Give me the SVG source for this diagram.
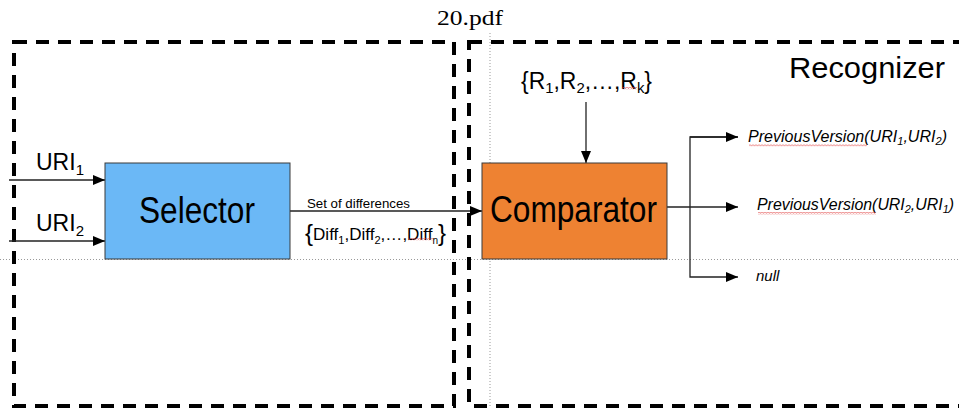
<svg xmlns="http://www.w3.org/2000/svg" width="959" height="411" viewBox="0 0 959 411">
<style>
.dash{fill:none;stroke:#000;stroke-width:4;stroke-dasharray:13,9}
.dot{fill:none;stroke:#999;stroke-width:1;stroke-dasharray:1,2}
.conn{fill:none;stroke:#222;stroke-width:1.3}
.box{stroke:#3a3a3a;stroke-width:1}
.sans{font-family:"Liberation Sans",Arial,sans-serif;fill:#000}
.it{font-style:italic}
.sq{fill:url(#zig)}
</style>
<defs>
<marker id="ah" viewBox="0 0 12 10" markerWidth="12" markerHeight="10" refX="12" refY="5" orient="auto" markerUnits="userSpaceOnUse">
<path d="M0,0 L12,5 L0,10 z" fill="#000"/>
</marker>
<pattern id="zig" width="3" height="2.4" patternUnits="userSpaceOnUse">
<path d="M0,0.4 L1.5,2 L3,0.4" fill="none" stroke="#e04040" stroke-width="0.7"/>
</pattern>
</defs>
<rect width="959" height="411" fill="#fff"/>
<text x="437" y="25" font-family="'Liberation Serif','DejaVu Serif',serif" font-size="22" textLength="66" lengthAdjust="spacingAndGlyphs">20.pdf</text>
<g id="guides">
<line class="dot" x1="490" y1="33" x2="490" y2="407"/>
<line class="dot" x1="0" y1="259.5" x2="959" y2="259.5"/>
</g>
<g id="selector-region">
<rect class="dash" x="14" y="42" width="440" height="364"/>
</g>
<g id="recognizer-region">
<rect class="dash" x="469" y="42" width="520" height="364"/>
<text class="sans" x="789" y="78" font-size="30" textLength="156" lengthAdjust="spacingAndGlyphs">Recognizer</text>
</g>
<g id="connectors">
<line class="conn" x1="9" y1="180" x2="105" y2="180" marker-end="url(#ah)"/>
<line class="conn" x1="9" y1="241" x2="105" y2="241" marker-end="url(#ah)"/>
<line class="conn" x1="290" y1="211" x2="482" y2="211" marker-end="url(#ah)"/>
<line class="conn" x1="586" y1="102" x2="586" y2="163" marker-end="url(#ah)"/>
<line class="conn" x1="667" y1="207" x2="738" y2="207" marker-end="url(#ah)"/>
<polyline class="conn" points="738,137 690,137 690,277 738,277" marker-end="url(#ah)"/>
<line class="conn" x1="690" y1="137" x2="738" y2="137" marker-end="url(#ah)"/>
</g>
<g id="labels">
<text class="sans" x="36" y="170" font-size="23">URI<tspan font-size="15" dy="5">1</tspan></text>
<text class="sans" x="36" y="231" font-size="23">URI<tspan font-size="15" dy="5">2</tspan></text>
<text class="sans" x="307" y="208" font-size="13" textLength="103" lengthAdjust="spacingAndGlyphs">Set of differences</text>
<text class="sans" x="305" y="240" font-size="17" textLength="141" lengthAdjust="spacingAndGlyphs"><tspan font-size="24" dy="1">{</tspan><tspan dy="-1">Diff</tspan><tspan font-size="11" dy="4">1</tspan><tspan dy="-4">,Diff</tspan><tspan font-size="11" dy="4">2</tspan><tspan dy="-4">,…,Diff</tspan><tspan font-size="10" dy="4">n</tspan><tspan font-size="24" dy="-3">}</tspan></text>
<rect class="sq" x="408" y="238" width="25" height="2.4"/>
<text class="sans" x="521" y="89" font-size="23" textLength="131" lengthAdjust="spacingAndGlyphs">{R<tspan font-size="15" dy="4">1</tspan><tspan dy="-4">,R</tspan><tspan font-size="15" dy="4">2</tspan><tspan dy="-4">,…,R</tspan><tspan font-size="15" dy="4">k</tspan><tspan dy="-4">}</tspan></text>
<rect class="sq" x="622" y="87" width="15" height="2.4"/>
<text class="sans it" x="748" y="142" font-size="16" textLength="199" lengthAdjust="spacingAndGlyphs">PreviousVersion(URI<tspan font-size="11" dy="3">1</tspan><tspan dy="-3">,URI</tspan><tspan font-size="11" dy="3">2</tspan><tspan dy="-3">)</tspan></text>
<rect class="sq" x="749" y="144" width="118" height="2.4"/>
<text class="sans it" x="757" y="210" font-size="16" textLength="197" lengthAdjust="spacingAndGlyphs">PreviousVersion(URI<tspan font-size="11" dy="3">2</tspan><tspan dy="-3">,URI</tspan><tspan font-size="11" dy="3">1</tspan><tspan dy="-3">)</tspan></text>
<rect class="sq" x="758" y="212" width="118" height="2.4"/>
<text class="sans it" x="756" y="281" font-size="15">null</text>
</g>
<g id="selector">
<rect class="box" x="105" y="163" width="185" height="96" fill="#6bb8f6"/>
<text class="sans" x="139" y="223" font-size="36" textLength="116" lengthAdjust="spacingAndGlyphs">Selector</text>
</g>
<g id="comparator">
<rect class="box" x="482" y="163" width="185" height="96" fill="#ee8232"/>
<text class="sans" x="490" y="222" font-size="36" textLength="167" lengthAdjust="spacingAndGlyphs">Comparator</text>
</g>
</svg>
